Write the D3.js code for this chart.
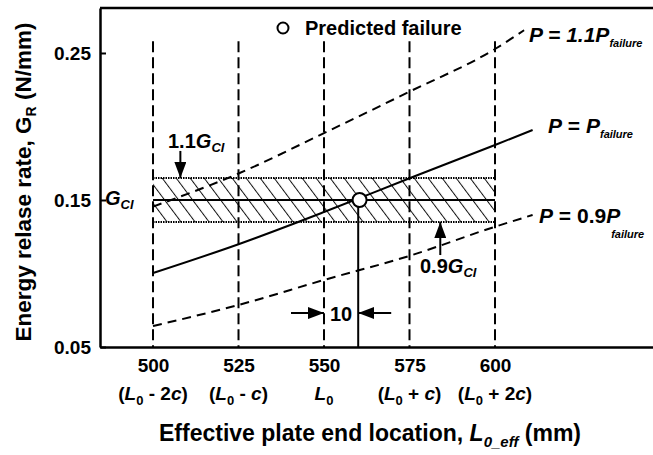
<!DOCTYPE html>
<html>
<head>
<meta charset="utf-8">
<script src="https://cdn.jsdelivr.net/npm/d3@7"></script>
<style>
  body { margin: 0; background: #fff; }
  text { font-family: "Liberation Sans", Arial, sans-serif; fill: #000; font-weight: bold; }
</style>
</head>
<body>
<svg id="chart"></svg>
<script>
// guide locations on the x axis and their labels
var guideX = [500, 525, 550, 575, 600];
var tickTop = ["500", "525", "550", "575", "600"];
var tickBottom = ["(L0 - 2c)", "(L0 - c)", "L0", "(L0 + c)", "(L0 + 2c)"];
var yTicks = [0.05, 0.15, 0.25];
var yTickLabels = ["0.05", "0.15", "0.25"];

// critical energy release rate and the +/-10% band
var gCI = 0.15;
var bandLow = 0.135;
var bandHigh = 0.165;
var guideTop = 0.258;

// G_R vs L0_eff for the three load levels
var lineFailure = [[500, 0.1003], [525, 0.1199], [550, 0.1418], [575, 0.1648], [600, 0.1874], [611, 0.1976]];
var lineUpper = [[500, 0.1455], [525, 0.168], [550, 0.1955], [575, 0.2237], [600, 0.2527], [608.5, 0.2655]];
var lineLower = [[500, 0.0643], [525, 0.0786], [550, 0.0956], [575, 0.112], [600, 0.1318], [611, 0.1398]];

// predicted failure point and the 10 mm offset from L0
var predicted = [560.4, 0.15];
var offsetFrom = 550;
var offsetTo = 560;
var offsetLevel = 0.0731;

var width = 653, height = 455;
var margin = {top: 8, right: 0, bottom: 108, left: 100};

var svg = d3.select("#chart")
  .attr("width", width)
  .attr("height", height);

var x = d3.scaleLinear()
  .domain([484.5, 646.2])
  .range([margin.left, width - margin.right]);

var y = d3.scaleLinear()
  .domain([0.05, 0.2806])
  .range([height - margin.bottom, margin.top]);

// hatch pattern + arrow head
var defs = svg.append("defs");
defs.append("pattern")
  .attr("id", "hatch")
  .attr("patternUnits", "userSpaceOnUse")
  .attr("width", 11.2)
  .attr("height", 20)
  .attr("patternTransform", "rotate(-36.87)")
  .append("line")
    .attr("x1", 0.5).attr("x2", 0.5)
    .attr("y1", 0).attr("y2", 20)
    .attr("stroke", "#111")
    .attr("stroke-width", 1);

defs.append("marker")
  .attr("id", "head")
  .attr("markerUnits", "userSpaceOnUse")
  .attr("viewBox", "0 0 16 12")
  .attr("markerWidth", 16)
  .attr("markerHeight", 12)
  .attr("refX", 16)
  .attr("refY", 6)
  .attr("orient", "auto")
  .append("path")
    .attr("d", "M0,0L16,6L0,12Z")
    .attr("fill", "#000");

// small helper for text with italics and subscripts
function rich(sel, px, py, parts, size, anchor) {
  var t = sel.append("text")
    .attr("x", px).attr("y", py)
    .attr("font-size", size)
    .attr("text-anchor", anchor || "start");
  var shift = 0;
  parts.forEach(function(p) {
    var s = t.append("tspan").text(p.t);
    var target = p.sub ? (p.drop || size * 0.25) : 0;
    if (target !== shift) { s.attr("dy", target - shift); shift = target; }
    if (p.dx) s.attr("dx", p.dx);
    if (p.sub) s.attr("font-size", p.size || size * 0.62);
    if (p.it) s.attr("font-style", "italic");
  });
  return t;
}

function tickParts(str) {
  var parts = [];
  for (var i = 0; i < str.length; i++) {
    var ch = str[i];
    if (ch == "L" || ch == "c") parts.push({t: ch, it: true});
    else if (ch == "0" && str[i - 1] == "L") parts.push({t: ch, sub: true, size: 13, drop: 5});
    else parts.push({t: ch});
  }
  return parts;
}

// band
svg.append("rect")
  .attr("x", x(500))
  .attr("y", y(bandHigh))
  .attr("width", x(600) - x(500))
  .attr("height", y(bandLow) - y(bandHigh))
  .attr("fill", "url(#hatch)");

[bandHigh, bandLow].forEach(function(v) {
  svg.append("line")
    .attr("x1", x(500)).attr("x2", x(600))
    .attr("y1", y(v)).attr("y2", y(v))
    .attr("stroke", "#000")
    .attr("stroke-width", 2)
    .attr("stroke-dasharray", "1.5,1");
});

svg.append("line")
  .attr("x1", x(500)).attr("x2", x(600))
  .attr("y1", y(gCI)).attr("y2", y(gCI))
  .attr("stroke", "#000")
  .attr("stroke-width", 2);

// vertical guide lines
svg.selectAll(".guide")
  .data(guideX)
  .join("line")
    .attr("class", "guide")
    .attr("x1", d => x(d)).attr("x2", d => x(d))
    .attr("y1", y(guideTop)).attr("y2", y(0.05))
    .attr("stroke", "#000")
    .attr("stroke-width", 2)
    .attr("stroke-dasharray", "11,5");

// curves
var line = d3.line()
  .x(d => x(d[0]))
  .y(d => y(d[1]))
  .curve(d3.curveMonotoneX);

svg.append("path")
  .datum(lineUpper)
  .attr("d", line)
  .attr("fill", "none")
  .attr("stroke", "#000")
  .attr("stroke-width", 2)
  .attr("stroke-dasharray", "9,6");

svg.append("path")
  .datum(lineLower)
  .attr("d", line)
  .attr("fill", "none")
  .attr("stroke", "#000")
  .attr("stroke-width", 2)
  .attr("stroke-dasharray", "9,6");

svg.append("path")
  .datum(lineFailure)
  .attr("d", line)
  .attr("fill", "none")
  .attr("stroke", "#000")
  .attr("stroke-width", 2);

// predicted failure point and drop line
svg.append("line")
  .attr("x1", x(offsetTo)).attr("x2", x(offsetTo))
  .attr("y1", y(predicted[1]) + 7).attr("y2", y(0.05))
  .attr("stroke", "#000")
  .attr("stroke-width", 2);

svg.append("circle")
  .attr("cx", x(predicted[0]))
  .attr("cy", y(predicted[1]))
  .attr("r", 7)
  .attr("fill", "#fff")
  .attr("stroke", "#000")
  .attr("stroke-width", 2);

// 10 mm offset arrows
svg.append("line")
  .attr("x1", x(offsetFrom) - 33).attr("x2", x(offsetFrom))
  .attr("y1", y(offsetLevel)).attr("y2", y(offsetLevel))
  .attr("stroke", "#000").attr("stroke-width", 2)
  .attr("marker-end", "url(#head)");
svg.append("line")
  .attr("x1", x(offsetTo) + 33).attr("x2", x(offsetTo))
  .attr("y1", y(offsetLevel)).attr("y2", y(offsetLevel))
  .attr("stroke", "#000").attr("stroke-width", 2)
  .attr("marker-end", "url(#head)");
svg.append("text")
  .attr("x", (x(offsetFrom) + x(offsetTo)) / 2)
  .attr("y", y(offsetLevel) + 8)
  .attr("text-anchor", "middle")
  .attr("font-size", 20)
  .text(offsetTo - offsetFrom);

// band arrows
svg.append("line")
  .attr("x1", x(508)).attr("x2", x(508))
  .attr("y1", y(bandHigh) - 27).attr("y2", y(bandHigh))
  .attr("stroke", "#000").attr("stroke-width", 2)
  .attr("marker-end", "url(#head)");
svg.append("line")
  .attr("x1", x(584)).attr("x2", x(584))
  .attr("y1", y(bandLow) + 33).attr("y2", y(bandLow))
  .attr("stroke", "#000").attr("stroke-width", 2)
  .attr("marker-end", "url(#head)");

// axes
var yAxis = svg.append("g")
  .attr("transform", `translate(${margin.left},0)`)
  .call(d3.axisLeft(y)
    .tickValues(yTicks)
    .tickFormat((d, i) => yTickLabels[i])
    .tickSizeInner(-6)
    .tickSizeOuter(0)
    .tickPadding(9));
yAxis.select(".domain").attr("stroke-width", 2.5);
yAxis.selectAll(".tick line").attr("stroke-width", 2);
yAxis.selectAll(".tick text")
  .attr("font-family", "Liberation Sans, Arial, sans-serif")
  .attr("font-size", 19)
  .attr("font-weight", "bold");

var xAxis = svg.append("g")
  .attr("transform", `translate(0,${y(0.05)})`)
  .call(d3.axisBottom(x)
    .tickValues(guideX)
    .tickFormat((d, i) => tickTop[i])
    .tickSize(0)
    .tickPadding(9));
xAxis.select(".domain").attr("stroke-width", 2.5);
xAxis.selectAll(".tick text")
  .attr("dy", null)
  .attr("y", 25)
  .attr("font-family", "Liberation Sans, Arial, sans-serif")
  .attr("font-size", 19)
  .attr("font-weight", "bold");

guideX.forEach(function(v, i) {
  rich(svg, x(v), y(0.05) + 53, tickParts(tickBottom[i]), 19, "middle");
});

// top frame line
svg.append("line")
  .attr("x1", margin.left).attr("x2", width)
  .attr("y1", margin.top).attr("y2", margin.top)
  .attr("stroke", "#000")
  .attr("stroke-width", 2.5);

// axis titles
rich(svg, 370, 441, [
  {t: "Effective plate end location, "},
  {t: "L", it: true},
  {t: "0_eff", it: true, sub: true, size: 15, drop: 6},
  {t: " (mm)"}
], 23);
svg.selectAll("text").filter(function() { return this.textContent.indexOf("Effective") == 0; })
  .attr("text-anchor", "middle");

rich(svg.append("g").attr("transform", "translate(31,182) rotate(-90)"), 0, 0, [
  {t: "Energy relase rate, G"},
  {t: "R", sub: true, size: 14, drop: 5},
  {t: " (N/mm)"}
], 22.5, "middle");

// legend
svg.append("circle")
  .attr("cx", 283).attr("cy", 28)
  .attr("r", 5.5)
  .attr("fill", "#fff")
  .attr("stroke", "#000")
  .attr("stroke-width", 2);
svg.append("text")
  .attr("x", 305).attr("y", 35)
  .attr("font-size", 20)
  .text("Predicted failure");

// curve labels
rich(svg, 529, 42, [
  {t: "P = 1.1P", it: true},
  {t: "failure", it: true, sub: true, size: 11, drop: 5}
], 21);
rich(svg, 548, 133, [
  {t: "P", it: true}, {t: " = "}, {t: "P", it: true},
  {t: "failure", it: true, sub: true, size: 11, drop: 5}
], 21);
rich(svg, 539, 223, [
  {t: "P", it: true}, {t: " = 0.9"}, {t: "P", it: true},
  {t: "failure", it: true, sub: true, size: 11, drop: 15, dx: -9}
], 21);

// band labels
rich(svg, 168, 148, [
  {t: "1.1"}, {t: "G", it: true},
  {t: "CI", it: true, sub: true, size: 13, drop: 4}
], 20);
rich(svg, 420, 273, [
  {t: "0.9"}, {t: "G", it: true},
  {t: "CI", it: true, sub: true, size: 13, drop: 4}
], 20);
rich(svg, 105, 205, [
  {t: "G", it: true},
  {t: "CI", it: true, sub: true, size: 13, drop: 4}
], 20);
</script>
</body>
</html>
